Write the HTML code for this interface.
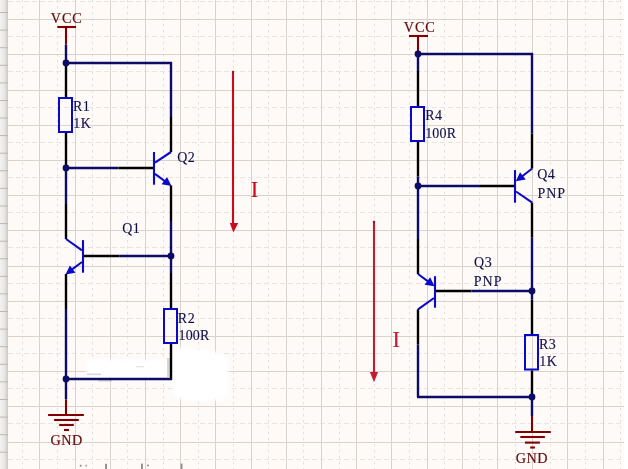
<!DOCTYPE html>
<html><head><meta charset="utf-8"><style>
html,body{margin:0;padding:0;background:#ffffff;}
body{width:628px;height:469px;overflow:hidden;position:relative;}
svg{position:absolute;left:0;top:0;font-family:"Liberation Serif",serif;will-change:transform;}
.s{stroke:#d9d2cd;stroke-width:1;}
.dv{stroke:#e6e1dd;stroke-width:1;stroke-dasharray:2.5 3.5;}
.dh{stroke:#eae5e1;stroke-width:1;stroke-dasharray:5 3;}
</style></head><body>
<svg width="628" height="469" viewBox="0 0 628 469">
<defs>
<linearGradient id="band" x1="0" x2="1" y1="0" y2="0">
<stop offset="0" stop-color="#f3f2f0"/><stop offset="0.5" stop-color="#ebe9e7"/><stop offset="0.85" stop-color="#d6d4d2"/><stop offset="1" stop-color="#c9c7c5"/>
</linearGradient>
<filter id="blur" x="-50%" y="-50%" width="200%" height="200%"><feGaussianBlur stdDeviation="1.5"/></filter><filter id="blur1" x="-50%" y="-50%" width="200%" height="200%"><feGaussianBlur stdDeviation="0.6"/></filter>
</defs>
<rect x="0" y="0" width="628" height="469" fill="#ffffff"/>
<rect x="8" y="0" width="616" height="469" fill="#fefaf8"/>
<line x1="22.5" y1="0" x2="22.5" y2="469" class="dv"/><line x1="57.5" y1="0" x2="57.5" y2="469" class="dv"/><line x1="92.5" y1="0" x2="92.5" y2="469" class="dv"/><line x1="127.5" y1="0" x2="127.5" y2="469" class="dv"/><line x1="163.5" y1="0" x2="163.5" y2="469" class="dv"/><line x1="198.5" y1="0" x2="198.5" y2="469" class="dv"/><line x1="233.5" y1="0" x2="233.5" y2="469" class="dv"/><line x1="268.5" y1="0" x2="268.5" y2="469" class="dv"/><line x1="303.5" y1="0" x2="303.5" y2="469" class="dv"/><line x1="339.5" y1="0" x2="339.5" y2="469" class="dv"/><line x1="374.5" y1="0" x2="374.5" y2="469" class="dv"/><line x1="409.5" y1="0" x2="409.5" y2="469" class="dv"/><line x1="444.5" y1="0" x2="444.5" y2="469" class="dv"/><line x1="479.5" y1="0" x2="479.5" y2="469" class="dv"/><line x1="515.5" y1="0" x2="515.5" y2="469" class="dv"/><line x1="550.5" y1="0" x2="550.5" y2="469" class="dv"/><line x1="585.5" y1="0" x2="585.5" y2="469" class="dv"/><line x1="620.5" y1="0" x2="620.5" y2="469" class="dv"/><line x1="8" y1="1.5" x2="624" y2="1.5" class="dh"/><line x1="8" y1="36.5" x2="624" y2="36.5" class="dh"/><line x1="8" y1="71.5" x2="624" y2="71.5" class="dh"/><line x1="8" y1="107.5" x2="624" y2="107.5" class="dh"/><line x1="8" y1="142.5" x2="624" y2="142.5" class="dh"/><line x1="8" y1="177.5" x2="624" y2="177.5" class="dh"/><line x1="8" y1="212.5" x2="624" y2="212.5" class="dh"/><line x1="8" y1="247.5" x2="624" y2="247.5" class="dh"/><line x1="8" y1="283.5" x2="624" y2="283.5" class="dh"/><line x1="8" y1="318.5" x2="624" y2="318.5" class="dh"/><line x1="8" y1="353.5" x2="624" y2="353.5" class="dh"/><line x1="8" y1="388.5" x2="624" y2="388.5" class="dh"/><line x1="8" y1="423.5" x2="624" y2="423.5" class="dh"/><line x1="8" y1="459.5" x2="624" y2="459.5" class="dh"/><line x1="39.5" y1="0" x2="39.5" y2="469" class="s"/><line x1="75.5" y1="0" x2="75.5" y2="469" class="s"/><line x1="110.5" y1="0" x2="110.5" y2="469" class="s"/><line x1="145.5" y1="0" x2="145.5" y2="469" class="s"/><line x1="180.5" y1="0" x2="180.5" y2="469" class="s"/><line x1="215.5" y1="0" x2="215.5" y2="469" class="s"/><line x1="251.5" y1="0" x2="251.5" y2="469" class="s"/><line x1="286.5" y1="0" x2="286.5" y2="469" class="s"/><line x1="321.5" y1="0" x2="321.5" y2="469" class="s"/><line x1="356.5" y1="0" x2="356.5" y2="469" class="s"/><line x1="391.5" y1="0" x2="391.5" y2="469" class="s"/><line x1="427.5" y1="0" x2="427.5" y2="469" class="s"/><line x1="462.5" y1="0" x2="462.5" y2="469" class="s"/><line x1="497.5" y1="0" x2="497.5" y2="469" class="s"/><line x1="532.5" y1="0" x2="532.5" y2="469" class="s"/><line x1="567.5" y1="0" x2="567.5" y2="469" class="s"/><line x1="603.5" y1="0" x2="603.5" y2="469" class="s"/><line x1="8" y1="19.5" x2="624" y2="19.5" class="s"/><line x1="8" y1="54.5" x2="624" y2="54.5" class="s"/><line x1="8" y1="90.5" x2="624" y2="90.5" class="s"/><line x1="8" y1="125.5" x2="624" y2="125.5" class="s"/><line x1="8" y1="160.5" x2="624" y2="160.5" class="s"/><line x1="8" y1="195.5" x2="624" y2="195.5" class="s"/><line x1="8" y1="230.5" x2="624" y2="230.5" class="s"/><line x1="8" y1="266.5" x2="624" y2="266.5" class="s"/><line x1="8" y1="301.5" x2="624" y2="301.5" class="s"/><line x1="8" y1="336.5" x2="624" y2="336.5" class="s"/><line x1="8" y1="371.5" x2="624" y2="371.5" class="s"/><line x1="8" y1="406.5" x2="624" y2="406.5" class="s"/><line x1="8" y1="442.5" x2="624" y2="442.5" class="s"/>
<rect x="0" y="0" width="8" height="469" fill="url(#band)"/>
<line x1="0" y1="12.5" x2="8" y2="12.5" stroke="#bab8b6" stroke-width="1"/><line x1="0" y1="30.1" x2="8" y2="30.1" stroke="#bab8b6" stroke-width="1"/><line x1="0" y1="47.7" x2="8" y2="47.7" stroke="#bab8b6" stroke-width="1"/><line x1="0" y1="65.3" x2="8" y2="65.3" stroke="#bab8b6" stroke-width="1"/><line x1="0" y1="82.9" x2="8" y2="82.9" stroke="#bab8b6" stroke-width="1"/><line x1="0" y1="100.5" x2="8" y2="100.5" stroke="#bab8b6" stroke-width="1"/><line x1="0" y1="118.0" x2="8" y2="118.0" stroke="#bab8b6" stroke-width="1"/><line x1="0" y1="135.6" x2="8" y2="135.6" stroke="#bab8b6" stroke-width="1"/><line x1="0" y1="153.2" x2="8" y2="153.2" stroke="#bab8b6" stroke-width="1"/><line x1="0" y1="170.8" x2="8" y2="170.8" stroke="#bab8b6" stroke-width="1"/><line x1="0" y1="188.4" x2="8" y2="188.4" stroke="#bab8b6" stroke-width="1"/><line x1="0" y1="206.0" x2="8" y2="206.0" stroke="#bab8b6" stroke-width="1"/><line x1="0" y1="223.6" x2="8" y2="223.6" stroke="#bab8b6" stroke-width="1"/><line x1="0" y1="241.2" x2="8" y2="241.2" stroke="#bab8b6" stroke-width="1"/><line x1="0" y1="258.8" x2="8" y2="258.8" stroke="#bab8b6" stroke-width="1"/><line x1="0" y1="276.4" x2="8" y2="276.4" stroke="#bab8b6" stroke-width="1"/><line x1="0" y1="293.9" x2="8" y2="293.9" stroke="#bab8b6" stroke-width="1"/><line x1="0" y1="311.5" x2="8" y2="311.5" stroke="#bab8b6" stroke-width="1"/><line x1="0" y1="329.1" x2="8" y2="329.1" stroke="#bab8b6" stroke-width="1"/><line x1="0" y1="346.7" x2="8" y2="346.7" stroke="#bab8b6" stroke-width="1"/><line x1="0" y1="364.3" x2="8" y2="364.3" stroke="#bab8b6" stroke-width="1"/><line x1="0" y1="381.9" x2="8" y2="381.9" stroke="#bab8b6" stroke-width="1"/><line x1="0" y1="399.5" x2="8" y2="399.5" stroke="#bab8b6" stroke-width="1"/><line x1="0" y1="417.1" x2="8" y2="417.1" stroke="#bab8b6" stroke-width="1"/><line x1="0" y1="434.7" x2="8" y2="434.7" stroke="#bab8b6" stroke-width="1"/><line x1="0" y1="452.2" x2="8" y2="452.2" stroke="#bab8b6" stroke-width="1"/>

<g filter="url(#blur)" fill="#ffffff">
 <path d="M173,347 L196,349 L222,353 L228,362 L229,392 L222,400 L185,401 L173,396 Z"/>
 <rect x="87" y="359.5" width="84" height="19" rx="3"/>
</g>
<g fill="#a8a8a8" opacity="0.75" filter="url(#blur1)">
 <rect x="167" y="358" width="3" height="19" opacity="0.6"/>
 <rect x="87" y="373.5" width="14" height="1.6" opacity="0.6"/>
 <rect x="98" y="380.2" width="14" height="1.4" opacity="0.6"/>
 <rect x="136" y="366" width="8" height="1.4" opacity="0.4"/>
</g>
<text x="50.84" y="22.8" font-size="14.2" fill="#640c0c" stroke="#640c0c" stroke-width="0.2" letter-spacing="0.9">VCC</text>
<line x1="57.3" y1="27" x2="76" y2="27" stroke="#800000" stroke-width="2.1"/>
<line x1="66" y1="26" x2="66" y2="44.6" stroke="#800000" stroke-width="2.1"/>
<line x1="66" y1="44.6" x2="66" y2="63" stroke="#0c0c66" stroke-width="2.4"/>
<line x1="65" y1="63" x2="172" y2="63" stroke="#0c0c66" stroke-width="2.4"/>
<line x1="171" y1="62" x2="171" y2="117" stroke="#0c0c66" stroke-width="2.4"/>
<line x1="171" y1="117" x2="171" y2="152" stroke="#000000" stroke-width="2.4"/>
<line x1="66" y1="63" x2="66" y2="97" stroke="#000000" stroke-width="2.4"/>
<rect x="59.0" y="98.0" width="13" height="34" fill="none" stroke="#0a0ac8" stroke-width="2"/>
<line x1="66" y1="133" x2="66" y2="168" stroke="#000000" stroke-width="2.4"/>
<line x1="66" y1="168" x2="118.5" y2="168" stroke="#0c0c66" stroke-width="2.4"/>
<line x1="118.5" y1="168" x2="153" y2="168" stroke="#000000" stroke-width="2.4"/>
<line x1="154" y1="152" x2="154" y2="184.7" stroke="#0a0ac8" stroke-width="2.1"/>
<line x1="155" y1="162.6" x2="171" y2="152" stroke="#0a0ac8" stroke-width="2.1"/>
<line x1="155" y1="173.8" x2="166" y2="182" stroke="#0a0ac8" stroke-width="2.1"/>
<polygon points="171.5,186 161.5284971814463,184.34799166479831 166.99815545705212,176.9505030133642" fill="#0a0ac8"/>
<line x1="171" y1="185.5" x2="171" y2="221" stroke="#000000" stroke-width="2.4"/>
<line x1="171" y1="221" x2="171" y2="273" stroke="#0c0c66" stroke-width="2.4"/>
<line x1="171" y1="273" x2="171" y2="308" stroke="#000000" stroke-width="2.4"/>
<rect x="164.0" y="309.0" width="13" height="34" fill="none" stroke="#0a0ac8" stroke-width="2"/>
<line x1="171" y1="344" x2="171" y2="380" stroke="#000000" stroke-width="2.4"/>
<line x1="172" y1="379" x2="66" y2="379" stroke="#0c0c66" stroke-width="2.4"/>
<line x1="66" y1="168" x2="66" y2="204" stroke="#0c0c66" stroke-width="2.4"/>
<line x1="66" y1="204" x2="66" y2="239" stroke="#000000" stroke-width="2.4"/>
<line x1="66" y1="239" x2="82" y2="250.3" stroke="#0a0ac8" stroke-width="2.1"/>
<line x1="83" y1="240.1" x2="83" y2="272.7" stroke="#0a0ac8" stroke-width="2.1"/>
<line x1="82" y1="262" x2="70" y2="270.8" stroke="#0a0ac8" stroke-width="2.1"/>
<polygon points="65.5,274.5 69.89608396860697,265.3986569265324 75.45157469816522,272.73190468954925" fill="#0a0ac8"/>
<line x1="66" y1="274" x2="66" y2="309" stroke="#000000" stroke-width="2.4"/>
<line x1="66" y1="309" x2="66" y2="399.4" stroke="#0c0c66" stroke-width="2.4"/>
<line x1="66" y1="399.4" x2="66" y2="415" stroke="#800000" stroke-width="2.1"/>
<line x1="84" y1="256" x2="119.7" y2="256" stroke="#000000" stroke-width="2.4"/>
<line x1="119.7" y1="256" x2="171" y2="256" stroke="#0c0c66" stroke-width="2.4"/>
<line x1="48.1" y1="415" x2="83.9" y2="415" stroke="#800000" stroke-width="2.1"/>
<line x1="54.1" y1="420" x2="78.8" y2="420" stroke="#800000" stroke-width="2.1"/>
<line x1="59.2" y1="425" x2="73.8" y2="425" stroke="#800000" stroke-width="2.1"/>
<line x1="64" y1="430" x2="69" y2="430" stroke="#800000" stroke-width="2.1"/>
<text x="50.42" y="444.6" font-size="14.2" fill="#640c0c" stroke="#640c0c" stroke-width="0.2" letter-spacing="0.5">GND</text>
<circle cx="66" cy="63" r="3.4" fill="#0c0c66"/>
<circle cx="66" cy="168" r="3.4" fill="#0c0c66"/>
<circle cx="171" cy="256" r="3.4" fill="#0c0c66"/>
<circle cx="66" cy="379" r="3.4" fill="#0c0c66"/>
<text x="72.90" y="110.7" font-size="14.0" fill="#101048" stroke="#101048" stroke-width="0.12" letter-spacing="0.5">R1</text>
<text x="73.27" y="128.4" font-size="14.0" fill="#101048" stroke="#101048" stroke-width="0.12" letter-spacing="0.5">1K</text>
<text x="177.23" y="161.9" font-size="14.0" fill="#101048" stroke="#101048" stroke-width="0.12" letter-spacing="0.5">Q2</text>
<text x="122.23" y="233" font-size="14.0" fill="#101048" stroke="#101048" stroke-width="0.12" letter-spacing="0.5">Q1</text>
<text x="177.80" y="322.6" font-size="14.0" fill="#101048" stroke="#101048" stroke-width="0.12" letter-spacing="0.5">R2</text>
<text x="178.47" y="339.7" font-size="14.0" fill="#101048" stroke="#101048" stroke-width="0.12" letter-spacing="0.2">100R</text>
<line x1="233" y1="70.9" x2="233" y2="224" stroke="#cc0a1e" stroke-width="2.1"/>
<line x1="233" y1="70.9" x2="233" y2="73" stroke="#8a1a34" stroke-width="2.1"/>
<polygon points="229.8,223 238.2,223 233.4,232.6" fill="#cc0a1e"/>
<text x="250.43" y="196.8" font-size="24" fill="#cc0a1e" stroke="#cc0a1e" stroke-width="0.0" letter-spacing="0">I</text>
<text x="403.84" y="31.6" font-size="14.2" fill="#640c0c" stroke="#640c0c" stroke-width="0.2" letter-spacing="0.9">VCC</text>
<line x1="409" y1="36" x2="428" y2="36" stroke="#800000" stroke-width="2.1"/>
<line x1="418" y1="35" x2="418" y2="54" stroke="#800000" stroke-width="2.1"/>
<line x1="417" y1="54" x2="533" y2="54" stroke="#0c0c66" stroke-width="2.4"/>
<line x1="532" y1="53" x2="532" y2="133.5" stroke="#0c0c66" stroke-width="2.4"/>
<line x1="532" y1="133.5" x2="532" y2="168.5" stroke="#000000" stroke-width="2.4"/>
<line x1="418" y1="54" x2="418" y2="71" stroke="#0c0c66" stroke-width="2.4"/>
<line x1="418" y1="71" x2="418" y2="106" stroke="#000000" stroke-width="2.4"/>
<rect x="411.0" y="107.0" width="13" height="34" fill="none" stroke="#0a0ac8" stroke-width="2"/>
<line x1="418" y1="142" x2="418" y2="176.5" stroke="#000000" stroke-width="2.4"/>
<line x1="418" y1="176.5" x2="418" y2="239" stroke="#0c0c66" stroke-width="2.4"/>
<line x1="418" y1="186" x2="480" y2="186" stroke="#0c0c66" stroke-width="2.4"/>
<line x1="480" y1="186" x2="515" y2="186" stroke="#000000" stroke-width="2.4"/>
<line x1="515" y1="170.1" x2="515" y2="202.7" stroke="#0a0ac8" stroke-width="2.1"/>
<line x1="532.2" y1="168.5" x2="520" y2="178" stroke="#0a0ac8" stroke-width="2.1"/>
<polygon points="515.8,181.3 520.0645961165119,172.13630969734186 525.7250879862193,179.3888149054045" fill="#0a0ac8"/>
<line x1="516" y1="191.5" x2="532.2" y2="202.7" stroke="#0a0ac8" stroke-width="2.1"/>
<line x1="532" y1="202.7" x2="532" y2="237.7" stroke="#000000" stroke-width="2.4"/>
<line x1="532" y1="237.7" x2="532" y2="299.4" stroke="#0c0c66" stroke-width="2.4"/>
<line x1="532" y1="299.4" x2="532" y2="334" stroke="#000000" stroke-width="2.4"/>
<rect x="525.0" y="335.0" width="13" height="34.5" fill="none" stroke="#0a0ac8" stroke-width="2"/>
<line x1="532" y1="370.5" x2="532" y2="397" stroke="#000000" stroke-width="2.4"/>
<line x1="532" y1="397" x2="532" y2="416" stroke="#0c0c66" stroke-width="2.4"/>
<line x1="532" y1="416" x2="532" y2="432" stroke="#800000" stroke-width="2.1"/>
<line x1="533" y1="397" x2="417" y2="397" stroke="#0c0c66" stroke-width="2.4"/>
<line x1="418" y1="239" x2="418" y2="274" stroke="#000000" stroke-width="2.4"/>
<line x1="418" y1="274" x2="430" y2="282.9" stroke="#0a0ac8" stroke-width="2.1"/>
<polygon points="434.6,286.3 424.630177853286,284.6378789566067 430.1073361896398,277.2459416896576" fill="#0a0ac8"/>
<line x1="435" y1="276.2" x2="435" y2="307.7" stroke="#0a0ac8" stroke-width="2.1"/>
<line x1="434" y1="298" x2="418" y2="309.3" stroke="#0a0ac8" stroke-width="2.1"/>
<line x1="418" y1="309.3" x2="418" y2="344.3" stroke="#000000" stroke-width="2.4"/>
<line x1="418" y1="344.3" x2="418" y2="397" stroke="#0c0c66" stroke-width="2.4"/>
<line x1="436" y1="291" x2="471.5" y2="291" stroke="#000000" stroke-width="2.4"/>
<line x1="471.5" y1="291" x2="532" y2="291" stroke="#0c0c66" stroke-width="2.4"/>
<line x1="515.2" y1="432" x2="550.8" y2="432" stroke="#800000" stroke-width="2.1"/>
<line x1="520.3" y1="437" x2="544.9" y2="437" stroke="#800000" stroke-width="2.1"/>
<line x1="525" y1="442.6" x2="539.9" y2="442.6" stroke="#800000" stroke-width="2.1"/>
<line x1="530.2" y1="447.5" x2="534.9" y2="447.5" stroke="#800000" stroke-width="2.1"/>
<text x="515.72" y="463.2" font-size="14.2" fill="#640c0c" stroke="#640c0c" stroke-width="0.2" letter-spacing="0.5">GND</text>
<circle cx="418" cy="54" r="3.4" fill="#0c0c66"/>
<circle cx="418" cy="186" r="3.4" fill="#0c0c66"/>
<circle cx="532" cy="291" r="3.4" fill="#0c0c66"/>
<circle cx="532" cy="397" r="3.4" fill="#0c0c66"/>
<text x="425.20" y="119.6" font-size="14.0" fill="#101048" stroke="#101048" stroke-width="0.12" letter-spacing="0.5">R4</text>
<text x="425.17" y="137.8" font-size="14.0" fill="#101048" stroke="#101048" stroke-width="0.12" letter-spacing="0.2">100R</text>
<text x="537.23" y="179.3" font-size="14.0" fill="#101048" stroke="#101048" stroke-width="0.12" letter-spacing="0.5">Q4</text>
<text x="537.40" y="197.9" font-size="14.0" fill="#101048" stroke="#101048" stroke-width="0.12" letter-spacing="1.0">PNP</text>
<text x="474.03" y="267.3" font-size="14.0" fill="#101048" stroke="#101048" stroke-width="0.12" letter-spacing="0.5">Q3</text>
<text x="473.80" y="285.6" font-size="14.0" fill="#101048" stroke="#101048" stroke-width="0.12" letter-spacing="1.0">PNP</text>
<text x="538.90" y="348.5" font-size="14.0" fill="#101048" stroke="#101048" stroke-width="0.12" letter-spacing="0.5">R3</text>
<text x="539.37" y="366.4" font-size="14.0" fill="#101048" stroke="#101048" stroke-width="0.12" letter-spacing="0.5">1K</text>
<line x1="374" y1="220.9" x2="374" y2="373" stroke="#c41a32" stroke-width="2.1"/>
<line x1="374" y1="220.9" x2="374" y2="223" stroke="#7a1a3a" stroke-width="2.1"/>
<polygon points="369.9,372 378.1,372 374,382.2" fill="#c41a32"/>
<text x="392.13" y="346.9" font-size="24" fill="#c41a32" stroke="#c41a32" stroke-width="0.0" letter-spacing="0">I</text>

<g fill="#8e8e8e">
 <rect x="79.8" y="464.8" width="1.8" height="1.8"/>
 <rect x="85.3" y="464.8" width="1.8" height="1.8" opacity="0.7"/>
 <rect x="105.1" y="463.8" width="1.9" height="6"/>
 <rect x="141" y="463.6" width="1.9" height="6"/>
 <rect x="147" y="464.6" width="1.8" height="1.8"/>
 <rect x="180.6" y="463.6" width="1.9" height="6"/>
</g>
</svg>
</body></html>
